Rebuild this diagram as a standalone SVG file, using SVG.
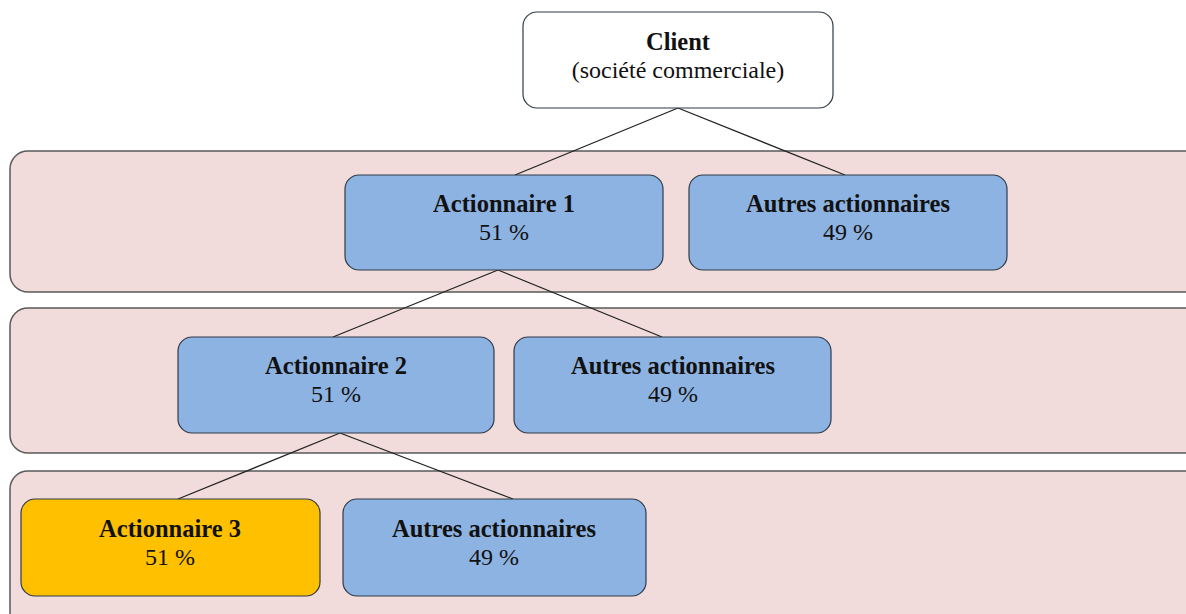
<svg xmlns="http://www.w3.org/2000/svg" width="1186" height="614" viewBox="0 0 1186 614">
<style>
.band{fill:#f2dcdb;stroke:#5a5a5a;stroke-width:1.5}
.box{stroke:#2f3a48;stroke-width:1.2}
.blue{fill:#8db3e2}
.gold{fill:#ffc000}
.white{fill:#ffffff}
.b{font-family:"Liberation Serif",serif;font-weight:bold;font-size:24.5px;fill:#111;text-anchor:middle}
.n{font-family:"Liberation Serif",serif;font-size:24px;fill:#111;text-anchor:middle}
.ln{stroke:#222;stroke-width:1.3;fill:none}
</style>
<rect width="1186" height="614" fill="#fff"/>
<g id="bands">
<rect class="band" x="10" y="151" width="1200" height="141" rx="18"/>
<rect class="band" x="10" y="308" width="1200" height="145" rx="18"/>
<rect class="band" x="10" y="471" width="1200" height="160" rx="18"/>
</g>
<g id="connectors">
<line class="ln" x1="678" y1="108" x2="515" y2="175"/>
<line class="ln" x1="678" y1="108" x2="845" y2="175"/>
<line class="ln" x1="498" y1="270" x2="333" y2="337"/>
<line class="ln" x1="498" y1="270" x2="662" y2="337"/>
<line class="ln" x1="340" y1="433" x2="178" y2="499"/>
<line class="ln" x1="340" y1="433" x2="513" y2="499"/>
</g>
<g id="client">
<rect class="box white" x="523" y="12" width="310" height="96" rx="14"/>
<text class="b" x="678" y="50">Client</text>
<text class="n" x="678" y="78">(société commerciale)</text>
</g>
<g id="act1">
<rect class="box blue" x="345" y="175" width="318" height="95" rx="14"/>
<text class="b" x="504" y="212">Actionnaire 1</text>
<text class="n" x="504" y="240">51 %</text>
</g>
<g id="autres1">
<rect class="box blue" x="689" y="175" width="318" height="95" rx="14"/>
<text class="b" x="848" y="212">Autres actionnaires</text>
<text class="n" x="848" y="240">49 %</text>
</g>
<g id="act2">
<rect class="box blue" x="178" y="337" width="316" height="96" rx="14"/>
<text class="b" x="336" y="374">Actionnaire 2</text>
<text class="n" x="336" y="402">51 %</text>
</g>
<g id="autres2">
<rect class="box blue" x="514" y="337" width="317" height="96" rx="14"/>
<text class="b" x="673" y="374">Autres actionnaires</text>
<text class="n" x="673" y="402">49 %</text>
</g>
<g id="act3">
<rect class="box gold" x="21" y="499" width="299" height="97" rx="14"/>
<text class="b" x="170" y="537">Actionnaire 3</text>
<text class="n" x="170" y="565">51 %</text>
</g>
<g id="autres3">
<rect class="box blue" x="343" y="499" width="303" height="97" rx="14"/>
<text class="b" x="494" y="537">Autres actionnaires</text>
<text class="n" x="494" y="565">49 %</text>
</g>
</svg>
